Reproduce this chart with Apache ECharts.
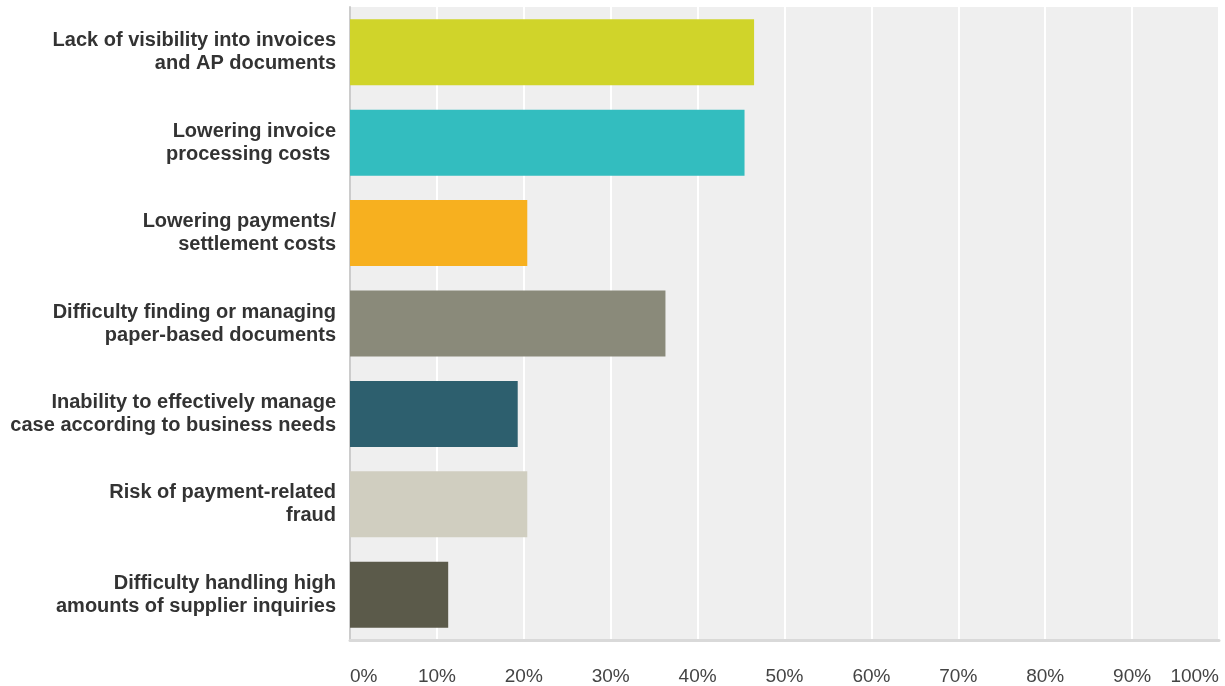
<!DOCTYPE html>
<html>
<head>
<meta charset="utf-8">
<title>AP challenges</title>
<script src="https://cdn.jsdelivr.net/npm/echarts@6/dist/echarts.min.js"></script>
<style>
  html, body { margin: 0; padding: 0; background: #ffffff; }
  #chart { width: 1225px; height: 686px; }
</style>
</head>
<body>
<div id="chart"></div>
<script>
// Answer options, top to bottom
const categories = [
  'Lack of visibility into invoices\nand AP documents',
  'Lowering invoice\nprocessing costs ',
  'Lowering payments/\nsettlement costs',
  'Difficulty finding or managing\npaper-based documents',
  'Inability to effectively manage\ncase according to business needs',
  'Risk of payment-related\nfraud',
  'Difficulty handling high\namounts of supplier inquiries'
];
// Share of respondents (%)
const values = [46.5, 45.4, 20.4, 36.3, 19.3, 20.4, 11.3];
const barColors = ['#d0d42a', '#33bdbf', '#f7b01f', '#8a8a7a', '#2d5f6e', '#d0cec0', '#5b5a4a'];
const tickValues = [0, 10, 20, 30, 40, 50, 60, 70, 80, 90, 100];

const chart = echarts.init(document.getElementById('chart'), null, { renderer: 'canvas' });

chart.setOption({
  animation: false,
  backgroundColor: '#ffffff',
  grid: {
    left: 350, right: 6, top: 7, bottom: 46,
    show: true, backgroundColor: '#efefef', borderWidth: 0
  },
  xAxis: {
    type: 'value',
    min: tickValues[0],
    max: tickValues[tickValues.length - 1],
    interval: 10,
    axisLine: { show: true, lineStyle: { color: '#d9d9d9', width: 3 } },
    axisTick: { show: false },
    splitLine: { show: true, lineStyle: { color: '#ffffff', width: 2 } },
    axisLabel: {
      margin: 27,
      fontFamily: 'Liberation Sans, Arial, sans-serif',
      fontSize: 19,
      color: '#444444',
      alignMinLabel: 'left',
      alignMaxLabel: 'right',
      formatter: v => v + '%'
    }
  },
  yAxis: {
    type: 'category',
    inverse: true,
    data: categories,
    axisLine: { show: true, onZero: false, lineStyle: { color: '#cccccc', width: 2 } },
    axisTick: { show: false },
    splitLine: { show: false },
    axisLabel: {
      margin: 14,
      fontFamily: 'Liberation Sans, Arial, sans-serif',
      fontSize: 20,
      fontWeight: 'bold',
      color: '#333333',
      lineHeight: 23,
      align: 'right',
      padding: [2, 0, 0, 0]
    }
  },
  series: [{
    type: 'bar',
    data: values.map((v, i) => ({ value: v, itemStyle: { color: barColors[i] } })),
    barCategoryGap: '27%',
    z: 3
  }]
});
</script>
</body>
</html>
